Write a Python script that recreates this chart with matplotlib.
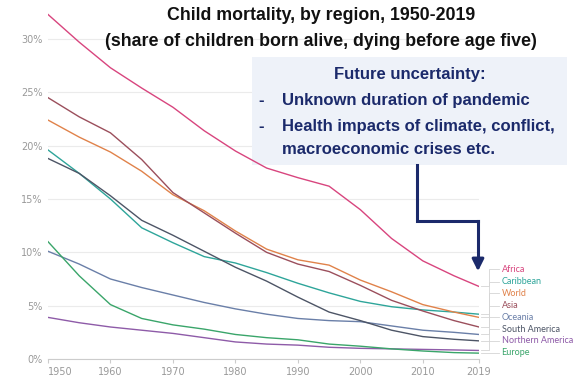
import matplotlib.pyplot as plt
from matplotlib.patches import Rectangle
from matplotlib.lines import Line2D

years = [1950, 1955, 1960, 1965, 1970, 1975, 1980, 1985, 1990, 1995, 2000, 2005, 2010, 2015, 2019]

africa = [32.3, 29.7, 27.3, 25.4, 23.6, 21.4, 19.5, 17.9, 17.0, 16.2, 14.0, 11.3, 9.2, 7.8, 6.8]
caribbean = [19.6, 17.4, 15.0, 12.3, 10.9, 9.6, 9.0, 8.1, 7.1, 6.2, 5.4, 4.9, 4.6, 4.4, 4.2]
world = [22.4, 20.8, 19.4, 17.6, 15.4, 13.9, 12.0, 10.3, 9.3, 8.8, 7.4, 6.3, 5.1, 4.4, 3.9]
asia = [24.5, 22.7, 21.2, 18.7, 15.6, 13.7, 11.8, 10.0, 8.9, 8.2, 6.9, 5.5, 4.5, 3.6, 3.0]
oceania = [10.1, 8.9, 7.5, 6.7, 6.0, 5.3, 4.7, 4.2, 3.8, 3.6, 3.5, 3.1, 2.7, 2.5, 2.3]
south_america = [18.8, 17.4, 15.3, 13.0, 11.6, 10.1, 8.6, 7.3, 5.8, 4.4, 3.6, 2.7, 2.1, 1.85, 1.7]
northern_america = [3.9, 3.4, 3.0, 2.7, 2.4, 2.0, 1.6, 1.4, 1.3, 1.1, 1.0, 0.95, 0.9, 0.85, 0.8]
europe = [11.0, 7.8, 5.1, 3.8, 3.2, 2.8, 2.3, 2.0, 1.8, 1.4, 1.2, 0.95, 0.75, 0.6, 0.55]

regions = ["Africa", "Caribbean", "World", "Asia", "Oceania", "South America", "Northern America", "Europe"]
series = [africa, caribbean, world, asia, oceania, south_america, northern_america, europe]
colors = ["#d8457e", "#2ea59a", "#e0824a", "#9b4f5c", "#6a7fa8", "#4d5566", "#8e5ba8", "#3aa56a"]

# label slots on the right, stacked from the top
label_y = [8.4, 7.25, 6.15, 5.0, 3.9, 2.8, 1.7, 0.6]

yticks = [0, 5, 10, 15, 20, 25, 30]
xticks = [1950, 1960, 1970, 1980, 1990, 2000, 2010, 2019]

fig = plt.figure(figsize=(5.77, 3.82), dpi=100)
ax = fig.add_axes([0.0832, 0.0602, 0.747, 0.9215])

for vals, c in zip(series, colors):
    ax.plot(years, vals, color=c, lw=1.0, zorder=3, solid_joinstyle="round")

ax.set_xlim(1950, 2019)
ax.set_ylim(0, 33)
ax.set_yticks(yticks)
ax.set_yticklabels([f"{t}%" for t in yticks])
ax.set_xticks(xticks)
ax.set_xticklabels([str(t) for t in xticks])
ax.get_xticklabels()[0].set_ha("left")
ax.grid(axis="y", color="#ebebeb", lw=0.8)
ax.set_axisbelow(True)
for s in ["top", "right", "left"]:
    ax.spines[s].set_visible(False)
ax.spines["bottom"].set_color("#cccccc")
ax.tick_params(axis="y", length=0, pad=4, labelsize=7, labelcolor="#999999")
ax.tick_params(axis="x", length=3, color="#cccccc", pad=3, labelsize=7, labelcolor="#999999")

# connectors and region labels past the last year
for name, vals, c, ly in zip(regions, series, colors, label_y):
    ax.plot([2019.3, 2020.6, 2020.6, 2022.2], [vals[-1], vals[-1], ly, ly],
            color="#d5d5d5", lw=0.6, clip_on=False, zorder=2)
    ax.text(2022.6, ly, name, color=c, fontsize=6.5, family="Lato",
            va="center", ha="left", clip_on=False)

# titles
fig.text(321 / 577, 1 - 16 / 382, "Child mortality, by region, 1950-2019",
         ha="center", va="center", fontsize=12.8, fontweight="bold",
         family="Liberation Sans", color="#111111")
fig.text(321 / 577, 1 - 41 / 382, "(share of children born alive, dying before age five)",
         ha="center", va="center", fontsize=12.8, fontweight="bold",
         family="Liberation Sans", color="#111111")

# note box
box = Rectangle((252 / 577, 1 - 165 / 382), 315 / 577, 108 / 382,
                transform=fig.transFigure, facecolor="#eef2f9",
                edgecolor="none", zorder=1.5)
ax.add_patch(box)
box.set_clip_on(False)

navy = "#1b2a6b"
fs = 12
fig.text(410 / 577, 1 - 75 / 382, "Future uncertainty:", ha="center", va="center",
         fontsize=fs, fontweight="bold", family="Liberation Sans", color=navy)
for py, dash, txt in [(101, True, "Unknown duration of pandemic"),
                      (126, True, "Health impacts of climate, conflict,"),
                      (150, False, "macroeconomic crises etc.")]:
    if dash:
        fig.text(258 / 577, 1 - py / 382, "-", ha="left", va="center",
                 fontsize=fs, fontweight="bold", family="Liberation Sans", color=navy)
    fig.text(282 / 577, 1 - py / 382, txt, ha="left", va="center",
             fontsize=fs, fontweight="bold", family="Liberation Sans", color=navy)

# arrow from the note down to the last year
px = [417, 417, 478]
py = [165, 221, 221]
fig.add_artist(Line2D([x / 577 for x in px], [1 - y / 382 for y in py],
                      color=navy, lw=2.2, solid_joinstyle="miter"))
fig.add_artist(Line2D([478 / 577, 478 / 577], [1 - 221 / 382, 1 - 262 / 382],
                      color=navy, lw=2.2))
ax.annotate("", xy=(478 / 577, 1 - 274 / 382), xytext=(478 / 577, 1 - 258 / 382),
            xycoords="figure fraction", textcoords="figure fraction",
            arrowprops=dict(arrowstyle="-|>,head_length=0.7,head_width=0.35",
                            color=navy, lw=2.2))

fig.savefig("out.png", dpi=100)
